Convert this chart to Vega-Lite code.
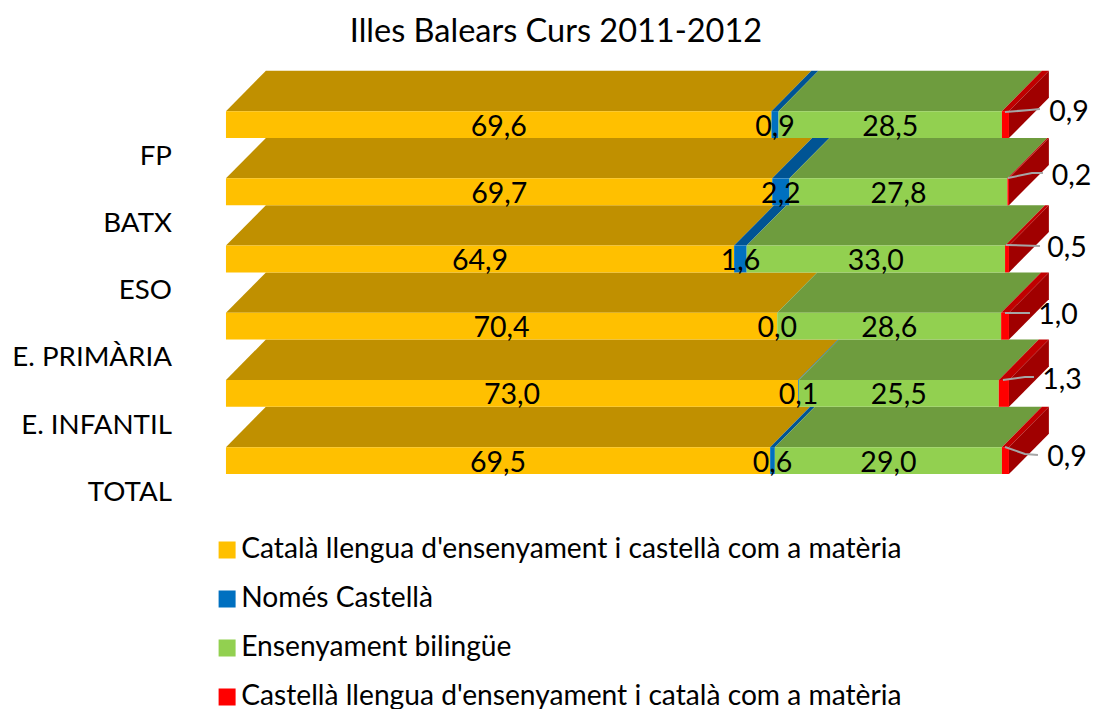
{"$schema":"https://vega.github.io/schema/vega-lite/v6.json","width":1094,"height":709,"padding":0,"autosize":{"type":"none"},"background":"white",
"title":{"text":"Illes Balears Curs 2011-2012","font":"Lato","fontSize":32.5,"fontWeight":"normal","color":"#000000","anchor":"middle","dx":9,"offset":-74,"baseline":"alphabetic"},
"config":{"view":{"stroke":null},"text":{"font":"Lato"}},
"datasets":{
"segments":[
{"category":"FP","series":"Català llengua d'ensenyament i castellà com a matèria","value":69.6,"start":0,"end":69.67,"base":5,"front":5.4},
{"category":"FP","series":"Només Castellà","value":0.9,"start":69.67,"end":70.57,"base":5,"front":5.4},
{"category":"FP","series":"Ensenyament bilingüe","value":28.5,"start":70.57,"end":99.1,"base":5,"front":5.4},
{"category":"FP","series":"Castellà llengua d'ensenyament i català com a matèria","value":0.9,"start":99.1,"end":100,"base":5,"front":5.4},
{"category":"BATX","series":"Català llengua d'ensenyament i castellà com a matèria","value":69.7,"start":0,"end":69.77,"base":4,"front":4.4},
{"category":"BATX","series":"Només Castellà","value":2.2,"start":69.77,"end":71.97,"base":4,"front":4.4},
{"category":"BATX","series":"Ensenyament bilingüe","value":27.8,"start":71.97,"end":99.8,"base":4,"front":4.4},
{"category":"BATX","series":"Castellà llengua d'ensenyament i català com a matèria","value":0.2,"start":99.8,"end":100,"base":4,"front":4.4},
{"category":"ESO","series":"Català llengua d'ensenyament i castellà com a matèria","value":64.9,"start":0,"end":64.9,"base":3,"front":3.4},
{"category":"ESO","series":"Només Castellà","value":1.6,"start":64.9,"end":66.5,"base":3,"front":3.4},
{"category":"ESO","series":"Ensenyament bilingüe","value":33.0,"start":66.5,"end":99.5,"base":3,"front":3.4},
{"category":"ESO","series":"Castellà llengua d'ensenyament i català com a matèria","value":0.5,"start":99.5,"end":100,"base":3,"front":3.4},
{"category":"E. PRIMÀRIA","series":"Català llengua d'ensenyament i castellà com a matèria","value":70.4,"start":0,"end":70.4,"base":2,"front":2.4},
{"category":"E. PRIMÀRIA","series":"Només Castellà","value":0.0,"start":70.4,"end":70.4,"base":2,"front":2.4},
{"category":"E. PRIMÀRIA","series":"Ensenyament bilingüe","value":28.6,"start":70.4,"end":99.0,"base":2,"front":2.4},
{"category":"E. PRIMÀRIA","series":"Castellà llengua d'ensenyament i català com a matèria","value":1.0,"start":99.0,"end":100,"base":2,"front":2.4},
{"category":"E. INFANTIL","series":"Català llengua d'ensenyament i castellà com a matèria","value":73.0,"start":0,"end":73.07,"base":1,"front":1.4},
{"category":"E. INFANTIL","series":"Només Castellà","value":0.1,"start":73.07,"end":73.17,"base":1,"front":1.4},
{"category":"E. INFANTIL","series":"Ensenyament bilingüe","value":25.5,"start":73.17,"end":98.7,"base":1,"front":1.4},
{"category":"E. INFANTIL","series":"Castellà llengua d'ensenyament i català com a matèria","value":1.3,"start":98.7,"end":100,"base":1,"front":1.4},
{"category":"TOTAL","series":"Català llengua d'ensenyament i castellà com a matèria","value":69.5,"start":0,"end":69.5,"base":0,"front":0.4},
{"category":"TOTAL","series":"Només Castellà","value":0.6,"start":69.5,"end":70.1,"base":0,"front":0.4},
{"category":"TOTAL","series":"Ensenyament bilingüe","value":29.0,"start":70.1,"end":99.1,"base":0,"front":0.4},
{"category":"TOTAL","series":"Castellà llengua d'ensenyament i català com a matèria","value":0.9,"start":99.1,"end":100,"base":0,"front":0.4}
],
"tops":[
{"k":"FP1","s":"C","h":5.4,"a":0,"b":69.67},{"k":"FP1","s":"C","h":6,"a":5.1,"b":74.77},
{"k":"FP2","s":"N","h":5.4,"a":69.67,"b":70.57},{"k":"FP2","s":"N","h":6,"a":74.77,"b":75.67},
{"k":"FP3","s":"E","h":5.4,"a":70.57,"b":99.1},{"k":"FP3","s":"E","h":6,"a":75.67,"b":104.2},
{"k":"FP4","s":"R","h":5.4,"a":99.1,"b":100},{"k":"FP4","s":"R","h":6,"a":104.2,"b":105.1},
{"k":"BA1","s":"C","h":4.4,"a":0,"b":69.77},{"k":"BA1","s":"C","h":5,"a":5.1,"b":74.87},
{"k":"BA2","s":"N","h":4.4,"a":69.77,"b":71.97},{"k":"BA2","s":"N","h":5,"a":74.87,"b":77.07},
{"k":"BA3","s":"E","h":4.4,"a":71.97,"b":99.8},{"k":"BA3","s":"E","h":5,"a":77.07,"b":104.9},
{"k":"BA4","s":"R","h":4.4,"a":99.8,"b":100},{"k":"BA4","s":"R","h":5,"a":104.9,"b":105.1},
{"k":"ES1","s":"C","h":3.4,"a":0,"b":64.9},{"k":"ES1","s":"C","h":4,"a":5.1,"b":70},
{"k":"ES2","s":"N","h":3.4,"a":64.9,"b":66.5},{"k":"ES2","s":"N","h":4,"a":70,"b":71.6},
{"k":"ES3","s":"E","h":3.4,"a":66.5,"b":99.5},{"k":"ES3","s":"E","h":4,"a":71.6,"b":104.6},
{"k":"ES4","s":"R","h":3.4,"a":99.5,"b":100},{"k":"ES4","s":"R","h":4,"a":104.6,"b":105.1},
{"k":"PR1","s":"C","h":2.4,"a":0,"b":70.4},{"k":"PR1","s":"C","h":3,"a":5.1,"b":75.5},
{"k":"PR3","s":"E","h":2.4,"a":70.4,"b":99.0},{"k":"PR3","s":"E","h":3,"a":75.5,"b":104.1},
{"k":"PR4","s":"R","h":2.4,"a":99.0,"b":100},{"k":"PR4","s":"R","h":3,"a":104.1,"b":105.1},
{"k":"IN1","s":"C","h":1.4,"a":0,"b":73.07},{"k":"IN1","s":"C","h":2,"a":5.1,"b":78.17},
{"k":"IN2","s":"N","h":1.4,"a":73.07,"b":73.17},{"k":"IN2","s":"N","h":2,"a":78.17,"b":78.27},
{"k":"IN3","s":"E","h":1.4,"a":73.17,"b":98.7},{"k":"IN3","s":"E","h":2,"a":78.27,"b":103.8},
{"k":"IN4","s":"R","h":1.4,"a":98.7,"b":100},{"k":"IN4","s":"R","h":2,"a":103.8,"b":105.1},
{"k":"TO1","s":"C","h":0.4,"a":0,"b":69.5},{"k":"TO1","s":"C","h":1,"a":5.1,"b":74.6},
{"k":"TO2","s":"N","h":0.4,"a":69.5,"b":70.1},{"k":"TO2","s":"N","h":1,"a":74.6,"b":75.2},
{"k":"TO3","s":"E","h":0.4,"a":70.1,"b":99.1},{"k":"TO3","s":"E","h":1,"a":75.2,"b":104.2},
{"k":"TO4","s":"R","h":0.4,"a":99.1,"b":100},{"k":"TO4","s":"R","h":1,"a":104.2,"b":105.1}
],
"sides":[
{"category":"FP","x":100,"y":5,"y2":5.4},{"category":"FP","x":105.1,"y":5.6,"y2":6},
{"category":"BATX","x":100,"y":4,"y2":4.4},{"category":"BATX","x":105.1,"y":4.6,"y2":5},
{"category":"ESO","x":100,"y":3,"y2":3.4},{"category":"ESO","x":105.1,"y":3.6,"y2":4},
{"category":"E. PRIMÀRIA","x":100,"y":2,"y2":2.4},{"category":"E. PRIMÀRIA","x":105.1,"y":2.6,"y2":3},
{"category":"E. INFANTIL","x":100,"y":1,"y2":1.4},{"category":"E. INFANTIL","x":105.1,"y":1.6,"y2":2},
{"category":"TOTAL","x":100,"y":0,"y2":0.4},{"category":"TOTAL","x":105.1,"y":0.6,"y2":1}
],
"labels":[
{"label":"69,6","x":34.84,"y":5.2},{"label":"0,9","x":70.12,"y":5.2},{"label":"28,5","x":84.84,"y":5.2},{"label":"0,9","x":107.66,"y":5.417},
{"label":"69,7","x":34.89,"y":4.2},{"label":"2,2","x":70.87,"y":4.2},{"label":"27,8","x":85.89,"y":4.2},{"label":"0,2","x":108.0,"y":4.464},
{"label":"64,9","x":32.45,"y":3.2},{"label":"1,6","x":65.7,"y":3.2},{"label":"33,0","x":83.0,"y":3.2},{"label":"0,5","x":107.4,"y":3.393},
{"label":"70,4","x":35.2,"y":2.2},{"label":"0,0","x":70.4,"y":2.2},{"label":"28,6","x":84.7,"y":2.2},{"label":"1,0","x":106.26,"y":2.396},
{"label":"73,0","x":36.53,"y":1.2},{"label":"0,1","x":73.12,"y":1.2},{"label":"25,5","x":85.93,"y":1.2},{"label":"1,3","x":106.77,"y":1.429},
{"label":"69,5","x":34.75,"y":0.2},{"label":"0,6","x":69.8,"y":0.2},{"label":"29,0","x":84.6,"y":0.2},{"label":"0,9","x":107.41,"y":0.283}
],
"leaders":[
{"category":"FP","o":1,"x":99.49,"y":5.387},{"category":"FP","o":2,"x":102.68,"y":5.417},{"category":"FP","o":3,"x":103.96,"y":5.432},
{"category":"BATX","o":1,"x":99.87,"y":4.405},{"category":"BATX","o":2,"x":102.94,"y":4.479},{"category":"BATX","o":3,"x":104.34,"y":4.479},
{"category":"ESO","o":1,"x":99.62,"y":3.408},{"category":"ESO","o":2,"x":103.96,"y":3.393},
{"category":"E. PRIMÀRIA","o":1,"x":99.49,"y":2.396},{"category":"E. PRIMÀRIA","o":2,"x":102.68,"y":2.396},
{"category":"E. INFANTIL","o":1,"x":99.23,"y":1.399},{"category":"E. INFANTIL","o":2,"x":102.04,"y":1.443},{"category":"E. INFANTIL","o":3,"x":103.19,"y":1.443},
{"category":"TOTAL","o":1,"x":99.49,"y":0.402},{"category":"TOTAL","o":2,"x":102.04,"y":0.298},{"category":"TOTAL","o":3,"x":103.7,"y":0.283}
],
"categories":[
{"category":"FP","x":-6.9,"y":4.75},{"category":"BATX","x":-6.9,"y":3.75},{"category":"ESO","x":-6.9,"y":2.75},{"category":"E. PRIMÀRIA","x":-6.9,"y":1.75},{"category":"E. INFANTIL","x":-6.9,"y":0.75},{"category":"TOTAL","x":-6.9,"y":-0.25}
]
},
"layer":[
{"data":{"name":"tops"},"mark":{"type":"area","orient":"horizontal","clip":false},
"encoding":{"y":{"field":"h","type":"quantitative","stack":null,"scale":{"domain":[-3.497,7.054]},"axis":null},
"x":{"field":"a","type":"quantitative","scale":{"domain":[-28.86,110.86]},"axis":null},"x2":{"field":"b"},
"detail":{"field":"k"},
"color":{"field":"s","type":"nominal","legend":null,"scale":{"domain":["C","N","E","R"],"range":["#C09000","#005494","#6E9C3E","#C00000"]}}}},
{"data":{"name":"sides"},"mark":{"type":"area","orient":"vertical","color":"#A00000"},
"encoding":{"x":{"field":"x","type":"quantitative","axis":null,"scale":{"domain":[-28.86,110.86]}},
"y":{"field":"y","type":"quantitative","stack":null,"axis":null,"scale":{"domain":[-3.497,7.054]}},"y2":{"field":"y2"},"detail":{"field":"category"}}},
{"data":{"name":"segments"},"mark":{"type":"rect"},
"encoding":{"x":{"field":"start","type":"quantitative","axis":null,"scale":{"domain":[-28.86,110.86]}},"x2":{"field":"end"},
"y":{"field":"base","type":"quantitative","axis":null,"scale":{"domain":[-3.497,7.054]}},"y2":{"field":"front"},
"color":{"field":"series","type":"nominal","sort":null,"scale":{"domain":["Català llengua d'ensenyament i castellà com a matèria","Només Castellà","Ensenyament bilingüe","Castellà llengua d'ensenyament i català com a matèria"],"range":["#FFC000","#0070C0","#92D050","#FF0000"]},
"legend":{"title":null,"orient":"none","legendX":213,"legendY":534,"symbolType":"square","symbolSize":289,"symbolStrokeWidth":0,"symbolOpacity":1,"labelFont":"Lato","labelFontSize":28.2,"labelColor":"#000000","labelLimit":900,"labelOffset":0,"rowPadding":17,"clipHeight":32}}}},
{"data":{"name":"leaders"},"mark":{"type":"line","color":"#A6A6A6","strokeWidth":2},
"encoding":{"x":{"field":"x","type":"quantitative","axis":null,"scale":{"domain":[-28.86,110.86]}},"y":{"field":"y","type":"quantitative","axis":null,"scale":{"domain":[-3.497,7.054]}},"order":{"field":"o"},"detail":{"field":"category"}}},
{"data":{"name":"labels"},"mark":{"type":"text","fontSize":28.5,"color":"#000000","align":"center","baseline":"middle","dy":2},
"encoding":{"x":{"field":"x","type":"quantitative","axis":null,"scale":{"domain":[-28.86,110.86]}},"y":{"field":"y","type":"quantitative","axis":null,"scale":{"domain":[-3.497,7.054]}},"text":{"field":"label"}}},
{"data":{"name":"categories"},"mark":{"type":"text","fontSize":27.7,"color":"#000000","align":"right","baseline":"middle","dy":2},
"encoding":{"x":{"field":"x","type":"quantitative","axis":null,"scale":{"domain":[-28.86,110.86]}},"y":{"field":"y","type":"quantitative","axis":null,"scale":{"domain":[-3.497,7.054]}},"text":{"field":"category"}}}
],
"resolve":{"scale":{"color":"independent"}}
}
